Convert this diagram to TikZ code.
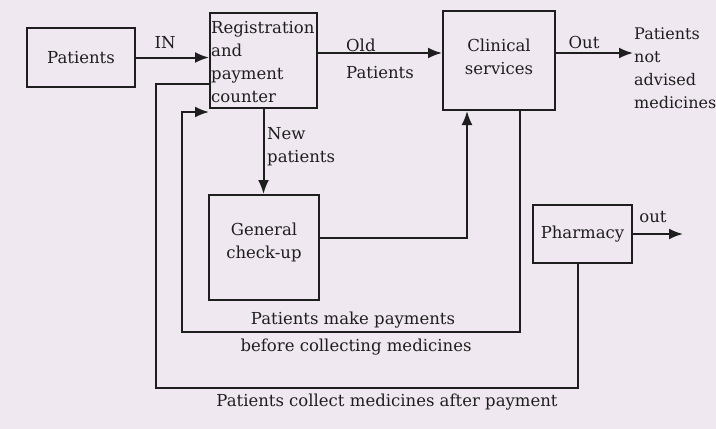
\documentclass[tikz,border=0pt]{standalone}
\usepackage{fontspec}
\setmainfont{DejaVu Serif}
\usetikzlibrary{arrows.meta,calc}
\definecolor{paper}{HTML}{EFE8F0}
\definecolor{ink}{HTML}{1E1E1E}
\tikzset{
  box/.style={draw=ink, line width=2pt, inner sep=1pt, text=ink,
              font=\fontsize{16.5}{23}\selectfont},
  lbl/.style={text=ink, inner sep=0pt, font=\fontsize{16.5}{23}\selectfont},
  conn/.style={draw=ink, line width=2pt},
  arr/.style={conn, -{Latex[length=14pt,width=11pt]}}
}
\begin{document}
\begin{tikzpicture}[x=1pt,y=-1pt]
\fill[paper] (0,0) rectangle (716,429);
\useasboundingbox (0,0) rectangle (716,429);

% boxes
\node[box, minimum width=108pt, minimum height=59pt] (pat) at (81,57.5) {Patients};
\node[box, minimum width=107pt, minimum height=95pt] (reg) at (263.5,60.5) {};
\node[lbl, anchor=west, align=left] (regt) at ([xshift=2pt,yshift=-2pt]reg.west)
  {Registration\\and\\payment\\counter};
\node[box, minimum width=112pt, minimum height=99pt] (clin) at (499,60.5) {};
\node[lbl, align=center] (clint) at (499,56.5) {Clinical\\services};
\node[box, minimum width=110pt, minimum height=105pt] (gen) at (264,247.5) {};
\node[lbl, align=center] (gent) at (264,242.5) {General\\check-up};
\node[box, minimum width=99pt, minimum height=58pt] (phar) at (582.5,234) {Pharmacy};

% free ends and corners
\coordinate (outA) at (633,53);
\coordinate (outB) at (683,234);
\coordinate (payc) at (182,332);
\coordinate (colc) at (156,388);

% connectors
\draw[arr] (pat.east) -- (pat.east -| reg.west);
\draw[arr] (reg.east |- outA) -- (clin.west |- outA);
\draw[arr] (clin.east |- outA) -- (outA);
\draw[arr] (reg.south) -- (reg.south |- gen.north);
\draw[arr] ([yshift=9.5pt]gen.east) -| ([xshift=-32pt]clin.south);
\draw[arr] ([xshift=21pt]clin.south) |- (payc) |- ([yshift=-3pt]reg.south west);
\draw[conn] ([yshift=-23.5pt]reg.west) -| (colc) -| ([xshift=-4.5pt]phar.south);
\draw[arr] (phar.east) -- (outB);

% labels
\node[lbl] (lin) at (165,43) {IN};
\node[lbl, anchor=west, align=left, font=\fontsize{16.5}{27}\selectfont] (lold) at (346,58.5) {Old\\Patients};
\node[lbl] (lout) at (584,42) {Out};
\node[lbl, anchor=north west, align=left, font=\fontsize{16}{23}\selectfont] (lnot) at (634,28) {Patients\\not\\advised\\medicines};
\node[lbl, anchor=west, align=left] (lnew) at (267,147) {New\\patients};
\node[lbl] (lpay1) at (353,320) {Patients make payments};
\node[lbl] (lpay2) at (356,347) {before collecting medicines};
\node[lbl] (lcol) at (387,402) {Patients collect medicines after payment};
\node[lbl] (lout2) at (653,217) {out};
\end{tikzpicture}
\end{document}
